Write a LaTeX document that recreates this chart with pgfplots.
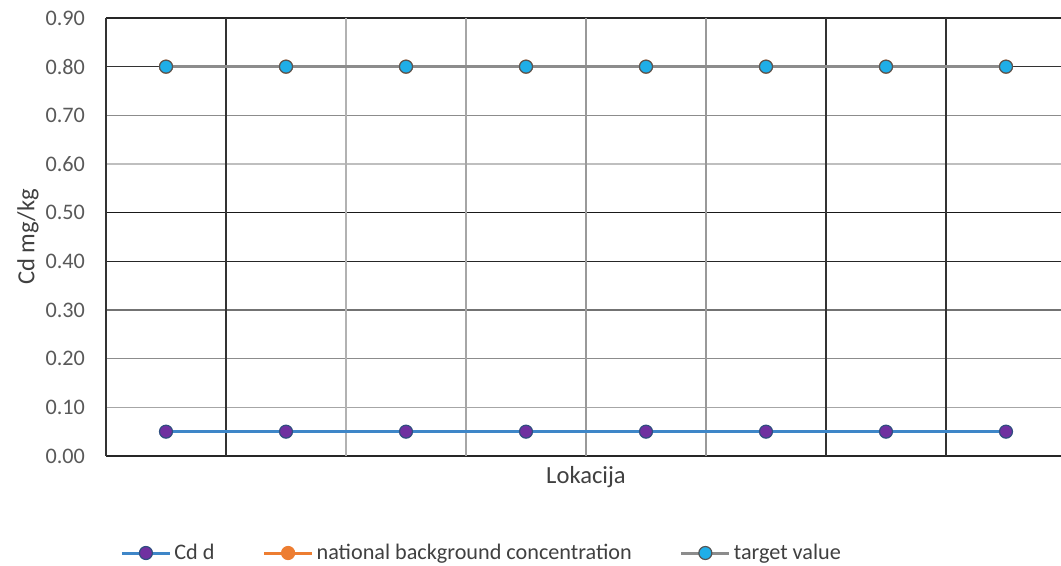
\documentclass[border=0pt]{standalone}
\usepackage{pgfplots}
\pgfplotsset{compat=1.18}
\usepackage{fontspec}
\setmainfont{Carlito}

\definecolor{cdline}{HTML}{3E86C8}
\definecolor{cdfill}{HTML}{7030A0}
\definecolor{cdedge}{HTML}{2F4F80}
\definecolor{natcol}{HTML}{ED7D31}
\definecolor{tgline}{HTML}{8C8C8C}
\definecolor{tgfill}{HTML}{1FAEE8}
\definecolor{tgedge}{HTML}{555555}
\definecolor{ticktext}{HTML}{595959}
\definecolor{titletext}{HTML}{404040}

\begin{document}
\begin{tikzpicture}[x=1pt,y=1pt]
\useasboundingbox (0,0) rectangle (530.5,283);
\begin{axis}[
  at={(53pt,55pt)}, anchor=south west,
  scale only axis, width=480pt, height=219pt,
  xmin=0.5, xmax=8.5, ymin=0, ymax=0.9,
  clip=false,
  axis line style={draw=none},
  xtick=\empty,
  ytick={0,0.1,0.2,0.3,0.4,0.5,0.6,0.7,0.8,0.9},
  major tick length=0pt,
  /pgf/number format/assume math mode=true,
  yticklabel style={/pgf/number format/fixed, /pgf/number format/fixed zerofill,
    /pgf/number format/precision=2, font=\fontsize{11.1}{13}\selectfont,
    text=ticktext, xshift=-7pt},
  xlabel={Lokacija},
  ylabel={Cd mg/kg},
  xlabel style={at={(axis description cs:0.5,-0.048)}, anchor=center,
    font=\fontsize{12.3}{14}\selectfont, text=titletext},
  ylabel style={at={(axis description cs:-0.08125,0.5)}, anchor=center,
    font=\fontsize{12.3}{14}\selectfont, text=titletext},
  legend columns=3,
  legend style={at={(axis description cs:0.0146,-0.2215)}, anchor=west,
    draw=none, fill=none, inner xsep=0pt, inner ysep=0pt,
    font=\fontsize{11.1}{13}\selectfont, text=titletext,
    nodes={inner xsep=1.5pt},
    /tikz/every even column/.append style={column sep=22.5pt}},
  legend image code/.code={%
    \draw[mark repeat=2,mark phase=2,#1] plot coordinates {(0pt,0pt) (12pt,0pt) (24pt,0pt)};},
]
% horizontal grid
\draw[line width=1pt, color=black!85] (axis cs:0.5,0) -- (axis cs:8.5,0);
\draw[line width=0.8pt, color=black!35] (axis cs:0.5,0.1) -- (axis cs:8.5,0.1);
\draw[line width=0.8pt, color=black!45] (axis cs:0.5,0.2) -- (axis cs:8.5,0.2);
\draw[line width=0.8pt, color=black!55] (axis cs:0.5,0.3) -- (axis cs:8.5,0.3);
\draw[line width=0.8pt, color=black!85] (axis cs:0.5,0.4) -- (axis cs:8.5,0.4);
\draw[line width=0.8pt, color=black!90] (axis cs:0.5,0.5) -- (axis cs:8.5,0.5);
\draw[line width=0.8pt, color=black!25] (axis cs:0.5,0.6) -- (axis cs:8.5,0.6);
\draw[line width=0.8pt, color=black!45] (axis cs:0.5,0.7) -- (axis cs:8.5,0.7);
\draw[line width=0.8pt, color=black!80] (axis cs:0.5,0.8) -- (axis cs:8.5,0.8);
\draw[line width=1pt, color=black!85] (axis cs:0.5,0.9) -- (axis cs:8.5,0.9);
% vertical grid
\draw[line width=0.9pt, color=black!80] (axis cs:0.5,0) -- (axis cs:0.5,0.9);
\draw[line width=0.8pt, color=black!80] (axis cs:1.5,0) -- (axis cs:1.5,0.9);
\draw[line width=0.8pt, color=black!30] (axis cs:2.5,0) -- (axis cs:2.5,0.9);
\draw[line width=0.8pt, color=black!35] (axis cs:3.5,0) -- (axis cs:3.5,0.9);
\draw[line width=0.8pt, color=black!40] (axis cs:4.5,0) -- (axis cs:4.5,0.9);
\draw[line width=0.8pt, color=black!40] (axis cs:5.5,0) -- (axis cs:5.5,0.9);
\draw[line width=0.8pt, color=black!80] (axis cs:6.5,0) -- (axis cs:6.5,0.9);
\draw[line width=0.8pt, color=black!80] (axis cs:7.5,0) -- (axis cs:7.5,0.9);
\draw[line width=0.8pt, color=black!80] (axis cs:8.5,0) -- (axis cs:8.5,0.9);

\addplot[color=cdline, line width=1.5pt, mark=*, mark size=3.25pt,
  mark options={solid, fill=cdfill, draw=cdedge, line width=0.6pt}]
  coordinates {(1,0.05) (2,0.05) (3,0.05) (4,0.05) (5,0.05) (6,0.05) (7,0.05) (8,0.05)};
\addlegendentry{Cd d}
\addplot[color=natcol, line width=1.5pt, mark=*, mark size=3.25pt,
  mark options={solid, fill=natcol, draw=natcol, line width=0.6pt}]
  coordinates {(1,0.8) (2,0.8) (3,0.8) (4,0.8) (5,0.8) (6,0.8) (7,0.8) (8,0.8)};
\addlegendentry{national background concentration}
\addplot[color=tgline, line width=1.5pt, mark=*, mark size=3.25pt,
  mark options={solid, fill=tgfill, draw=tgedge, line width=0.6pt}]
  coordinates {(1,0.8) (2,0.8) (3,0.8) (4,0.8) (5,0.8) (6,0.8) (7,0.8) (8,0.8)};
\addlegendentry{target value}
\end{axis}
\end{tikzpicture}
\end{document}
